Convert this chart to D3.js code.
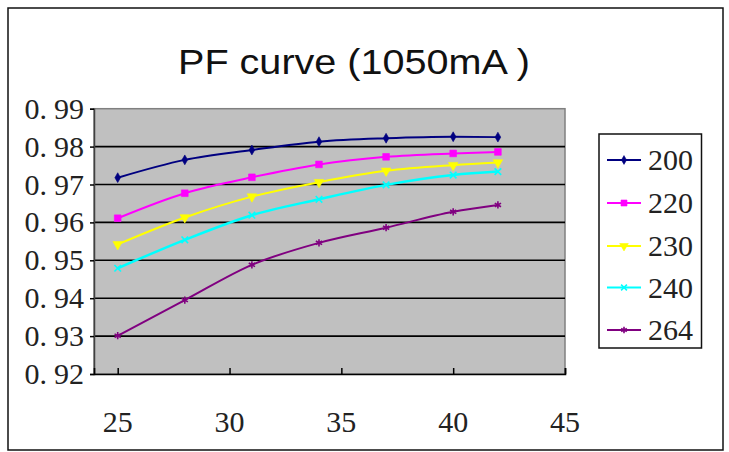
<!DOCTYPE html>
<html><head><meta charset="utf-8">
<script src="https://cdn.jsdelivr.net/npm/d3@7"></script>
<style>html,body{margin:0;padding:0;background:#fff;}svg{display:block;}
svg text.num{font-family:'Liberation Serif' !important;}</style>
</head><body>
<svg id="chart" width="729" height="452"></svg>
<script>
const title = "PF curve (1050mA )";
const xValues = [25, 28, 31, 34, 37, 40, 42];
const seriesNames = ["200", "220", "230", "240", "264"];
const s200 = [0.9718, 0.9765, 0.9791, 0.9813, 0.9822, 0.9826, 0.9825];
const s220 = [0.9611, 0.9677, 0.9719, 0.9753, 0.9773, 0.9782, 0.9786];
const s230 = [0.9542, 0.9613, 0.9668, 0.9706, 0.9736, 0.9751, 0.9758];
const s240 = [0.9479, 0.9554, 0.9619, 0.9661, 0.9699, 0.9725, 0.9734];
const s264 = [0.9301, 0.9395, 0.9488, 0.9546, 0.9586, 0.9628, 0.9646];
const seriesValues = [s200, s220, s230, s240, s264];
const seriesColors = ["#000080", "#ff00ff", "#ffff00", "#00ffff", "#800080"];
const xTicks = [25, 30, 35, 40, 45];
const yTicks = [0.92, 0.93, 0.94, 0.95, 0.96, 0.97, 0.98, 0.99];

const svg = d3.select("#chart");
const P = {l: 94, r: 565, t: 108.7, b: 374};
const x = d3.scaleLinear().domain([23.94, 45]).range([P.l, P.r]);
const y = d3.scaleLinear().domain([0.92, 0.99]).range([P.b, P.t]);

svg.append("rect").attr("width", 729).attr("height", 452).attr("fill", "#fff");
svg.append("rect").attr("x", 8).attr("y", 8).attr("width", 715).attr("height", 442)
  .attr("fill", "#fff").attr("stroke", "#111").attr("stroke-width", 1.5);

svg.append("text").attr("x", 354).attr("y", 73.5).attr("text-anchor", "middle")
  .attr("font-family", "Liberation Sans").attr("font-size", 35)
  .attr("textLength", 352).attr("lengthAdjust", "spacingAndGlyphs")
  .attr("fill", "#111").text(title);

// plot area
svg.append("rect").attr("x", P.l).attr("y", P.t).attr("width", P.r - P.l).attr("height", P.b - P.t)
  .attr("fill", "#c0c0c0").attr("stroke", "#808080").attr("stroke-width", 1.5);

// gridlines
svg.append("g").selectAll("line").data(yTicks.filter(v => v > 0.925 && v < 0.985)).join("line")
  .attr("x1", P.l).attr("x2", P.r).attr("y1", d => y(d)).attr("y2", d => y(d))
  .attr("stroke", "#000").attr("stroke-width", 1.6);

// y axis
const yAxis = svg.append("g").attr("transform", `translate(${P.l},0)`)
  .call(d3.axisLeft(y).tickValues(yTicks).tickSize(4).tickFormat(""));
yAxis.select(".domain").attr("stroke", "#404040").attr("stroke-width", 1.5);
yAxis.selectAll(".tick line").attr("stroke", "#000").attr("stroke-width", 1.5);
const yLab = svg.append("g").selectAll("text").data(yTicks).join("text")
  .attr("class", "num").attr("font-family", "Liberation Serif").attr("font-size", 30)
  .attr("x", 84).attr("y", d => y(d) + 10).attr("text-anchor", "end")
  .attr("fill", "#222");
yLab.each(function(d) {
  const s = d3.format(".2f")(d);
  const t = d3.select(this);
  t.append("tspan").text(s.slice(0, 2));
  t.append("tspan").attr("dx", 7).text(s.slice(2));
});

// x axis
const xAxis = svg.append("g").attr("transform", `translate(0,${P.b})`)
  .call(d3.axisTop(x).tickValues(xTicks).tickSize(6).tickFormat(""));
xAxis.select(".domain").attr("stroke", "#000").attr("stroke-width", 1.6);
xAxis.selectAll(".tick line").attr("stroke", "#000").attr("stroke-width", 1.5);
svg.append("g").selectAll("text").data(xTicks).join("text")
  .attr("class", "num").attr("font-family", "Liberation Serif").attr("font-size", 30)
  .attr("x", d => x(d)).attr("y", 432).attr("text-anchor", "middle")
  .attr("fill", "#222").text(d => d);

// markers
const symTypes = [d3.symbolDiamond, d3.symbolSquare, d3.symbolTriangle,
  d3.symbolTimes || d3.symbolCross, d3.symbolAsterisk || d3.symbolCross];
const symSizes = [28, 45, 40, 30, 36];
function drawMarker(g, i, cx, cy, scale) {
  const stroke = i >= 3;
  g.append("path").attr("transform", `translate(${cx},${cy})${i === 2 ? " rotate(180)" : ""}`)
    .attr("d", d3.symbol().type(symTypes[i]).size(symSizes[i] * scale)())
    .attr("fill", stroke ? "none" : seriesColors[i])
    .attr("stroke", seriesColors[i]).attr("stroke-width", stroke ? 1.6 : 0.6);
}

const line = d3.line().x((d, j) => x(xValues[j])).y(d => y(d)).curve(d3.curveMonotoneX);
seriesValues.forEach((vals, i) => {
  const g = svg.append("g");
  g.append("path").attr("d", line(vals)).attr("fill", "none")
    .attr("stroke", seriesColors[i]).attr("stroke-width", i === 3 ? 2.5 : 2);
  vals.forEach((v, j) => drawMarker(g, i, x(xValues[j]), y(v), 1));
});

// legend
svg.append("rect").attr("x", 599).attr("y", 134).attr("width", 102.5).attr("height", 214)
  .attr("fill", "#fff").attr("stroke", "#111").attr("stroke-width", 1.5);
const legY = [160, 203, 246, 287.5, 330];
seriesNames.forEach((name, i) => {
  const g = svg.append("g");
  g.append("line").attr("x1", 607).attr("x2", 641).attr("y1", legY[i]).attr("y2", legY[i])
    .attr("stroke", seriesColors[i]).attr("stroke-width", 2);
  drawMarker(g, i, 624, legY[i], 0.8);
  g.append("text").attr("class", "num").attr("font-family", "Liberation Serif").attr("font-size", 30)
    .attr("x", 648).attr("y", legY[i] + 10)
    .attr("fill", "#222").text(name);
});
</script>
</body></html>
